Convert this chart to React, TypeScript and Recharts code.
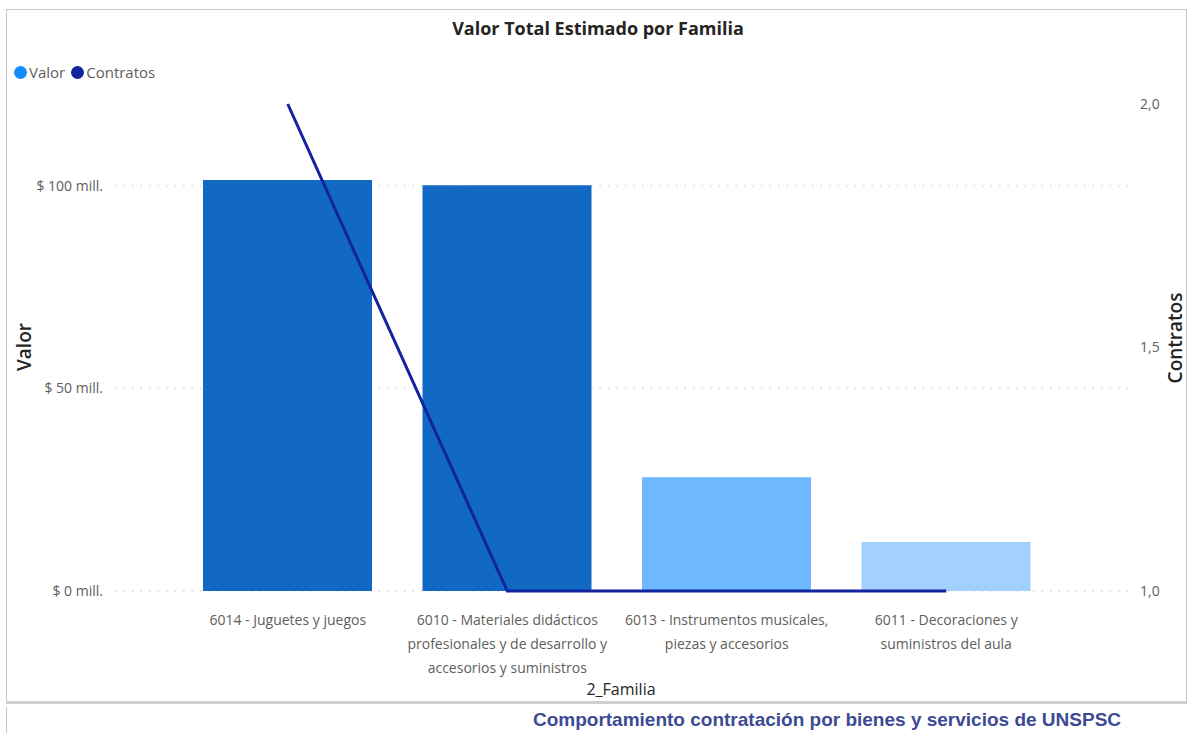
import React from 'react';
import { ComposedChart, Bar, Line, XAxis, YAxis, CartesianGrid, Cell, Text } from 'recharts';

const categories = [
  '6014 - Juguetes y juegos',
  '6010 - Materiales didácticos profesionales y de desarrollo y accesorios y suministros',
  '6013 - Instrumentos musicales, piezas y accesorios',
  '6011 - Decoraciones y suministros del aula',
];
const valorMill = [101.5, 100.2, 28.1, 12.1];
const contratos = [2, 1, 1, 1];
const barColors = ['#1169C3', '#1169C3', '#6DB8FF', '#A2D0FF'];
const leftTicks = [0, 50, 100];
const rightTicks = [1, 1.5, 2];
const LEFT_MAX = 120.25;

const data = categories.map((c, i) => ({ familia: c, valor: valorMill[i], contratos: contratos[i] }));

const FONT = "'Open Sans', 'Noto Sans', sans-serif";
const TICK_COLOR = '#605E5C';

const LW = 110;
const RW = 60;
const XH = 70;

const XTick = (props: any) => {
  const { x, y, payload } = props;
  return (
    <Text
      x={x}
      y={y + 24}
      width={233}
      textAnchor="middle"
      verticalAnchor="start"
      lineHeight={24}
      fill={TICK_COLOR}
      style={{ fontFamily: FONT, fontSize: 14 }}
    >
      {payload.value}
    </Text>
  );
};

const gridGen = (p: any) => {
  const off = p.offset;
  return leftTicks.map((t) => off.top + off.height * (1 - t / LEFT_MAX));
};

export default function App() {
  return (
    <div style={{ position: 'fixed', left: 0, top: 0, width: 1191, height: 733, background: '#fff', overflow: 'hidden', fontFamily: FONT }}>
      {/* frame */}
      <div style={{ position: 'absolute', left: 6, top: 9, width: 1181, height: 695, borderLeft: '1.5px solid #c8c8c8', borderRight: '1.5px solid #c8c8c8', borderTop: '1.5px solid #c8c8c8', borderBottom: '3px solid #cfcfcf', boxSizing: 'border-box' }} />
      <div style={{ position: 'absolute', left: 6, top: 707, width: 0, height: 26, borderLeft: '1.5px solid #c8c8c8' }} />

      {/* title */}
      <div style={{ position: 'absolute', left: 598, top: 28, transform: 'translate(-50%, -50%)', fontWeight: 700, fontSize: 18, color: '#252423', whiteSpace: 'nowrap' }}>
        Valor Total Estimado por Familia
      </div>

      {/* legend */}
      <div style={{ position: 'absolute', left: 14, top: 72, transform: 'translateY(-50%)', display: 'flex', alignItems: 'center', fontSize: 15, color: TICK_COLOR, whiteSpace: 'nowrap' }}>
        <span style={{ display: 'inline-block', width: 13, height: 13, borderRadius: '50%', background: '#118DFF', marginRight: 2 }} />
        <span style={{ marginRight: 6 }}>Valor</span>
        <span style={{ display: 'inline-block', width: 13, height: 13, borderRadius: '50%', background: '#12239E', marginRight: 2 }} />
        <span>Contratos</span>
      </div>

      <ComposedChart
        width={1191}
        height={733}
        data={data}
        margin={{ top: 104, right: 1191 - 1128 - RW, bottom: 733 - 591 - XH, left: 115 - LW }}
        style={{ position: 'absolute', left: 0, top: 0 }}
      >
        <CartesianGrid
          vertical={false}
          yAxisId="left"
          horizontalCoordinatesGenerator={gridGen}
          stroke="#c8c8c8"
          strokeDasharray="1.5 7"
          strokeWidth={1.2}
        />
        <XAxis
          dataKey="familia"
          height={XH}
          axisLine={false}
          tickLine={false}
          tickSize={0}
          tickMargin={0}
          interval={0}
          padding={{ left: 63, right: 72 }}
          tick={<XTick />}
        />
        <YAxis
          yAxisId="left"
          orientation="left"
          width={LW}
          domain={[0, LEFT_MAX]}
          ticks={leftTicks}
          axisLine={false}
          tickLine={false}
          tickSize={0}
          tickMargin={12}
          tickFormatter={(v: number) => `$ ${v} mill.`}
          tick={{ fill: TICK_COLOR, fontSize: 14, fontFamily: FONT }}
        />
        <YAxis
          yAxisId="right"
          orientation="right"
          width={RW}
          domain={[1, 2]}
          ticks={rightTicks}
          axisLine={false}
          tickLine={false}
          tickSize={0}
          tickMargin={12}
          tickFormatter={(v: number) => v.toFixed(1).replace('.', ',')}
          tick={{ fill: TICK_COLOR, fontSize: 14, fontFamily: FONT }}
        />
        <Bar yAxisId="left" dataKey="valor" barSize={169} isAnimationActive={false}>
          {data.map((d, i) => (
            <Cell key={d.familia} fill={barColors[i]} />
          ))}
        </Bar>
        <Line
          yAxisId="right"
          type="linear"
          dataKey="contratos"
          stroke="#12239E"
          strokeWidth={3}
          dot={false}
          activeDot={false}
          isAnimationActive={false}
        />
      </ComposedChart>

      {/* axis titles */}
      <div style={{ position: 'absolute', left: 24, top: 347, transform: 'translate(-50%, -50%) rotate(-90deg)', fontSize: 19, fontWeight: 600, color: '#252423', whiteSpace: 'nowrap' }}>
        Valor
      </div>
      <div style={{ position: 'absolute', left: 1175, top: 338, transform: 'translate(-50%, -50%) rotate(-90deg)', fontSize: 19, fontWeight: 600, color: '#252423', whiteSpace: 'nowrap' }}>
        Contratos
      </div>
      <div style={{ position: 'absolute', left: 621, top: 689, transform: 'translate(-50%, -50%)', fontSize: 16, color: '#252423', whiteSpace: 'nowrap' }}>
        2_Familia
      </div>

      {/* footer */}
      <div style={{ position: 'absolute', left: 827, top: 720, transform: 'translate(-50%, -50%)', fontFamily: "'Liberation Sans', Arial, sans-serif", fontWeight: 700, fontSize: 19, color: '#3D4A94', whiteSpace: 'nowrap' }}>
        Comportamiento contratación por bienes y servicios de UNSPSC
      </div>
    </div>
  );
}
